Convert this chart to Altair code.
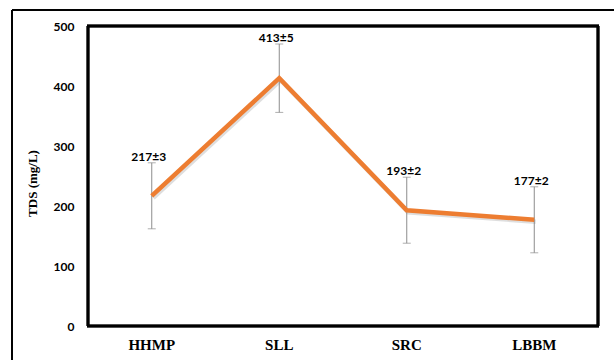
import altair as alt
import pandas as pd

# Sampling sites and total dissolved solids (mg/L)
sites = ["HHMP", "SLL", "SRC", "LBBM"]
tds_mean = [217, 413, 193, 177]
tds_sd = [3, 5, 2, 2]
bar_half = [55, 57, 55, 55]  # half-length of the drawn error bars
y_ticks = [0, 100, 200, 300, 400, 500]

df = pd.DataFrame({
    "site": sites,
    "tds": tds_mean,
    "lo": [m - e for m, e in zip(tds_mean, bar_half)],
    "hi": [m + e for m, e in zip(tds_mean, bar_half)],
    "label": [f"{m}±{s}" for m, s in zip(tds_mean, tds_sd)],
})

W, H = 510, 300

x = alt.X("site:N", sort=sites, title=None,
          scale=alt.Scale(paddingInner=0, paddingOuter=0),
          axis=alt.Axis(labelAngle=0, labelFont="Liberation Serif", labelFontWeight="bold",
                        labelFontSize=15, labelColor="#000", labelPadding=11,
                        domain=False, ticks=False))
y_scale = alt.Scale(domain=[0, 500], nice=False)

base = alt.Chart(df)

line_shadow = base.mark_line(color="#7a7a7a", strokeWidth=4.5, opacity=0.25,
                             xOffset=1.5, yOffset=2).encode(
    x=x, y=alt.Y("tds:Q", scale=y_scale))

err_rule = base.mark_rule(color="#8c8c8c", strokeWidth=1).encode(
    x=x, y=alt.Y("lo:Q", scale=y_scale), y2="hi:Q")
cap_lo = base.mark_tick(color="#8c8c8c", thickness=1, size=8, orient="horizontal").encode(
    x=x, y=alt.Y("lo:Q", scale=y_scale))
cap_hi = base.mark_tick(color="#8c8c8c", thickness=1, size=8, orient="horizontal").encode(
    x=x, y=alt.Y("hi:Q", scale=y_scale))

line = base.mark_line(color="#ED7D31", strokeWidth=4.5, strokeJoin="miter").encode(
    x=x,
    y=alt.Y("tds:Q", scale=y_scale, title="TDS (mg/L)",
            axis=alt.Axis(values=y_ticks, grid=False, domain=False, ticks=False,
                          labelFont="Lato", labelFontWeight="bold", labelFontSize=12,
                          labelColor="#000", labelPadding=14,
                          titleFont="Liberation Serif", titleFontWeight="bold",
                          titleFontSize=13, titleColor="#000", titleAngle=-90,
                          titleX=-56, titleY=157, titleAlign="center",
                          titleBaseline="middle")))

labels = base.mark_text(font="Lato", fontWeight="bold", fontSize=12, color="#000",
                        baseline="bottom", dx=-3, dy=1).encode(
    x=x, y=alt.Y("hi:Q", scale=y_scale), text="label:N")

# Plot-area frame
def hrule(yv, x0, x1, w):
    return alt.Chart(df).mark_rule(color="#000", strokeWidth=w).encode(
        x=alt.value(x0), x2=alt.value(x1), y=alt.value(yv))

def vrule(xv, y0, y1, w):
    return alt.Chart(df).mark_rule(color="#000", strokeWidth=w).encode(
        x=alt.value(xv), y=alt.value(y0), y2=alt.value(y1))

plot_frame = [hrule(0, -1, W + 1, 2.5), hrule(H, -1, W + 1, 2.5),
              vrule(0, 0, H, 2.5), vrule(W, 0, H, 2.5)]
# Outer frame around the whole figure
outer_frame = [vrule(-76, -16, 400, 1.5), hrule(-16, -76, 700, 1.5)]

chart = alt.layer(*outer_frame, err_rule, cap_lo, cap_hi, line_shadow, line, labels,
                  *plot_frame).properties(
    width=W, height=H,
    background="white",
    autosize=alt.AutoSizeParams(type="none"),
    padding={"left": 88, "top": 26, "right": 16, "bottom": 34},
).configure_view(strokeWidth=0)

chart.save("out.html", embed_options={"renderer": "svg", "actions": False})
